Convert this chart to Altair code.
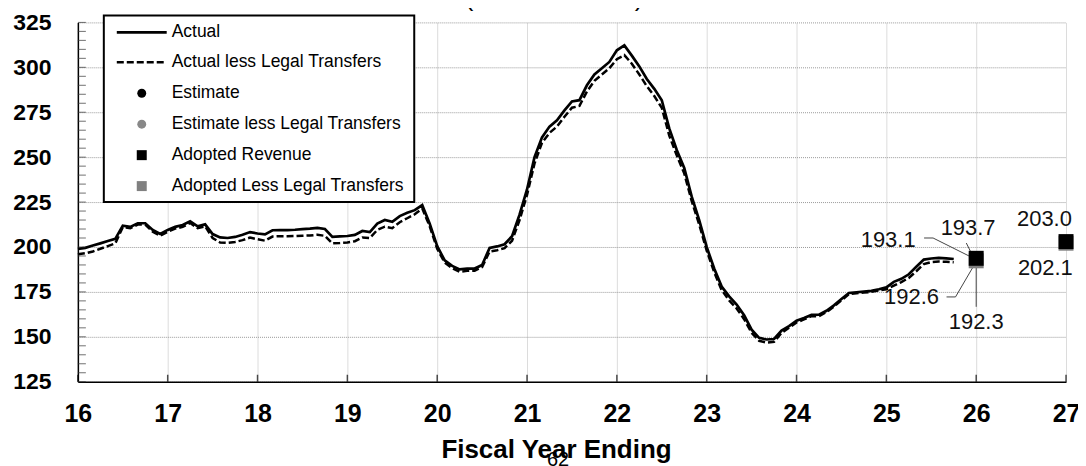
import altair as alt
import pandas as pd

# ---------------- data ----------------
months = list(range(118))  # monthly observations starting FY16
years = [16 + m / 12 for m in months]

actual = [
    198.9, 199.5, 200.8, 202.0, 203.3, 204.5, 211.8, 211.2, 213.2, 213.2, 209.5, 207.3,
    209.5, 211.2, 212.2, 214.3, 211.5, 212.6, 207.2, 205.3, 205.0, 205.6, 206.8, 208.3,
    207.5, 207.0, 209.3, 209.4, 209.4, 209.6, 209.9, 210.2, 210.6, 210.0, 205.6, 205.9,
    206.1, 206.7, 208.9, 208.3, 213.0, 215.0, 214.0, 217.2, 219.0, 220.5, 223.3, 213.0,
    200.5, 192.5, 189.5, 187.5, 188.0, 188.0, 190.0, 199.5, 200.3, 201.5, 206.0, 218.0,
    232.0, 250.0, 261.0, 267.0, 270.5, 276.0, 281.0, 281.7, 290.0, 296.0, 299.5, 303.0,
    309.5, 312.2, 306.5, 300.5, 293.5, 288.0, 281.7, 266.0, 254.0, 244.0, 228.0, 215.0,
    200.0, 188.0, 178.0, 172.5, 168.0, 162.0, 154.0, 149.4, 148.5, 148.8, 153.5, 156.0,
    159.0, 160.5, 162.2, 162.3, 164.5, 167.5, 171.0, 174.4, 174.8, 175.2, 175.6, 176.5,
    177.5, 180.6, 182.3, 184.8, 189.0, 193.0, 193.6, 193.9, 193.7, 193.3,
]

actual_less = [
    196.0, 196.5, 197.5, 199.0, 200.5, 202.0, 211.0, 210.5, 212.5, 212.5, 208.5, 206.3,
    208.5, 210.2, 211.2, 213.3, 210.5, 211.5, 205.0, 202.5, 202.3, 202.8, 203.8, 205.2,
    204.3, 203.5, 205.8, 206.0, 206.0, 206.1, 206.3, 206.4, 206.8, 206.2, 202.0, 202.2,
    202.5, 203.2, 205.3, 205.0, 209.5, 211.3, 210.5, 213.8, 216.0, 218.2, 221.5, 211.5,
    199.0, 191.3, 188.2, 186.2, 186.7, 186.8, 188.8, 197.5, 198.2, 199.3, 203.5, 215.0,
    229.0, 246.5, 258.0, 263.5, 267.0, 272.5, 277.5, 278.5, 286.5, 292.5, 296.0, 299.5,
    304.5, 306.8, 302.0, 296.0, 289.5, 284.0, 277.5, 262.0, 251.0, 241.0, 225.5, 212.5,
    198.0, 186.0, 176.0, 170.3, 165.8, 159.8, 152.2, 147.8, 146.8, 147.2, 152.2, 155.0,
    158.0, 159.7, 161.5, 161.5, 163.8, 166.8, 170.3, 173.8, 174.2, 174.6, 175.0, 175.8,
    176.5, 178.5, 180.5, 182.8, 186.5, 190.5, 191.6, 191.9, 191.8, 191.5,
]

# Point estimates
est_years = [26]
estimate = [193.1]
estimate_less = [192.6]
adopt_years = [26, 27]
adopted = [193.7, 203.0]
adopted_less = [192.3, 202.1]

x_ticks = list(range(16, 28))
y_labels = list(range(125, 326, 25))
y_minor = list(range(125, 326, 5))

# annotation label placement (data units)
ann_text = ["193.1", "193.7", "192.6", "192.3", "203.0", "202.1"]
ann_x = [25.02, 25.91, 25.28, 26.0, 26.76, 26.77]
ann_y = [203.9, 210.6, 172.2, 158.3, 215.6, 188.3]

lead_grp = ["a", "a", "a", "b", "b", "c", "c", "c", "d", "d"]
lead_ord = [0, 1, 2, 0, 1, 0, 1, 2, 0, 1]
lead_x = [25.42, 25.52, 25.92, 25.89, 25.94, 25.67, 25.77, 25.99, 26.0, 26.0]
lead_y = [205.0, 205.0, 195.0, 202.2, 197.2, 172.2, 172.2, 191.0, 188.9, 166.7]

legend_labels = ["Actual", "Actual less Legal Transfers", "Estimate",
                 "Estimate less Legal Transfers", "Adopted Revenue",
                 "Adopted Less Legal Transfers"]

# ---------------- chart ----------------
FONT = "Liberation Sans"
W, H = 990, 360

line_df = pd.DataFrame({"year": years, "actual": actual, "less": actual_less})

x_scale = alt.Scale(domain=[16, 27], nice=False, zero=False)
y_scale = alt.Scale(domain=[125, 325], nice=False, zero=False)

x_axis = alt.Axis(
    values=x_ticks, format="d", tickSize=0, labelFontSize=25, labelFontWeight="bold",
    labelFont=FONT, labelColor="black", labelPadding=20, labelOverlap=False,
    labelFlush=False, grid=True, gridColor="#dcdcdc", gridWidth=1,
    domainColor="black", domainWidth=1.5,
    title="Fiscal Year Ending", titleFont=FONT, titleFontSize=26, titleFontWeight="bold",
    titleColor="black", titleX=479, titleY=76, titleBaseline="alphabetic",
    titleAlign="center", titleAnchor="start",
)
y_axis = alt.Axis(
    values=y_labels, format="d", tickSize=0, labelFontSize=23, labelFontWeight="bold",
    labelFont=FONT, labelColor="black", labelPadding=27, labelOverlap=False,
    labelFlush=False, grid=True, gridColor="#9a9a9a", gridWidth=1, gridDash=[1, 1],
    domainColor="black", domainWidth=1.5, title=None,
)

def X(field):
    return alt.X(f"{field}:Q", scale=x_scale, axis=x_axis)

def Y(field):
    return alt.Y(f"{field}:Q", scale=y_scale, axis=y_axis)

base = alt.Chart(line_df)
solid = base.mark_line(color="black", strokeWidth=2.7).encode(x=X("year"), y=Y("actual"))
dashed = base.mark_line(color="black", strokeWidth=2.5, strokeDash=[7, 3]).encode(
    x=X("year"), y=Y("less"))

est_df = pd.DataFrame({"year": est_years, "est": estimate, "estl": estimate_less})
adp_df = pd.DataFrame({"year": adopt_years, "adp": adopted, "adpl": adopted_less})

est_l = alt.Chart(est_df).mark_point(shape="circle", filled=True, color="#888888",
                                     size=80, opacity=1).encode(x=X("year"), y=Y("estl"))
est_p = alt.Chart(est_df).mark_point(shape="circle", filled=True, color="black",
                                     size=80, opacity=1).encode(x=X("year"), y=Y("est"))
adp_l = alt.Chart(adp_df).mark_point(shape="square", filled=True, color="#808080",
                                     size=225, opacity=1).encode(x=X("year"), y=Y("adpl"))
adp_p = alt.Chart(adp_df).mark_point(shape="square", filled=True, color="black",
                                     size=225, opacity=1).encode(x=X("year"), y=Y("adp"))

lead_df = pd.DataFrame({"grp": lead_grp, "ord": lead_ord, "year": lead_x, "v": lead_y})
leaders = alt.Chart(lead_df).mark_line(color="#444444", strokeWidth=1).encode(
    x=X("year"), y=Y("v"), detail="grp:N", order="ord:Q")

ann_df = pd.DataFrame({"t": ann_text, "year": ann_x, "v": ann_y})
ann = alt.Chart(ann_df).mark_text(font=FONT, fontSize=22, color="#111111",
                                  align="center", baseline="middle").encode(
    x=X("year"), y=Y("v"), text="t:N")

# inside tick marks
xt = alt.Chart(pd.DataFrame({"year": x_ticks})).mark_tick(
    orient="vertical", size=7, thickness=1.5, color="black").encode(
    x=X("year"), y=alt.value(H - 3.5))
yt = alt.Chart(pd.DataFrame({"v": y_minor})).mark_tick(
    orient="horizontal", size=8, thickness=1, color="#333333").encode(
    y=Y("v"), x=alt.value(4))

# custom legend
one = pd.DataFrame({"k": [0]})
leg_box = alt.Chart(one).mark_rect(fill="white", stroke="black", strokeWidth=2).encode(
    x=alt.value(26), x2=alt.value(337), y=alt.value(-7), y2=alt.value(180))
row_y = [10, 40, 71, 102, 133, 164]
leg_layers = [leg_box]
leg_layers.append(alt.Chart(one).mark_rule(color="black", strokeWidth=2.7).encode(
    x=alt.value(39), x2=alt.value(89), y=alt.value(row_y[0])))
leg_layers.append(alt.Chart(one).mark_rule(color="black", strokeWidth=2.5,
                                           strokeDash=[7, 3]).encode(
    x=alt.value(39), x2=alt.value(89), y=alt.value(row_y[1])))
leg_layers.append(alt.Chart(one).mark_point(shape="circle", filled=True, color="black",
                                            size=80, opacity=1).encode(
    x=alt.value(64), y=alt.value(row_y[2])))
leg_layers.append(alt.Chart(one).mark_point(shape="circle", filled=True, color="#888888",
                                            size=80, opacity=1).encode(
    x=alt.value(64), y=alt.value(row_y[3])))
leg_layers.append(alt.Chart(one).mark_point(shape="square", filled=True, color="black",
                                            size=100, opacity=1).encode(
    x=alt.value(64), y=alt.value(row_y[4])))
leg_layers.append(alt.Chart(one).mark_point(shape="square", filled=True, color="#808080",
                                            size=100, opacity=1).encode(
    x=alt.value(64), y=alt.value(row_y[5])))
for lab, ry in zip(legend_labels, row_y):
    leg_layers.append(alt.Chart(one).mark_text(
        text=lab, font=FONT, fontSize=17.5, color="black", align="left",
        baseline="middle").encode(x=alt.value(94), y=alt.value(ry)))

# cut-off page title and page number
title_txt = alt.Chart(one).mark_text(
    text="(Million Dollars)", font=FONT, fontSize=26, color="black", align="center",
    baseline="alphabetic").encode(x=alt.value(477), y=alt.value(-16))
page_no = alt.Chart(one).mark_text(
    text="62", font=FONT, fontSize=20, color="black", align="center",
    baseline="alphabetic").encode(x=alt.value(481), y=alt.value(444))

chart = alt.layer(
    solid, dashed, leaders, est_l, est_p, adp_l, adp_p, ann, xt, yt,
    *leg_layers, title_txt, page_no,
).properties(
    width=W, height=H,
    padding={"left": 70, "top": 14, "right": 12, "bottom": 84},
    autosize=alt.AutoSizeParams(type="none"),
    background="white",
).configure_view(stroke=None)

chart.save("out.html", embed_options={"renderer": "svg", "actions": False})
